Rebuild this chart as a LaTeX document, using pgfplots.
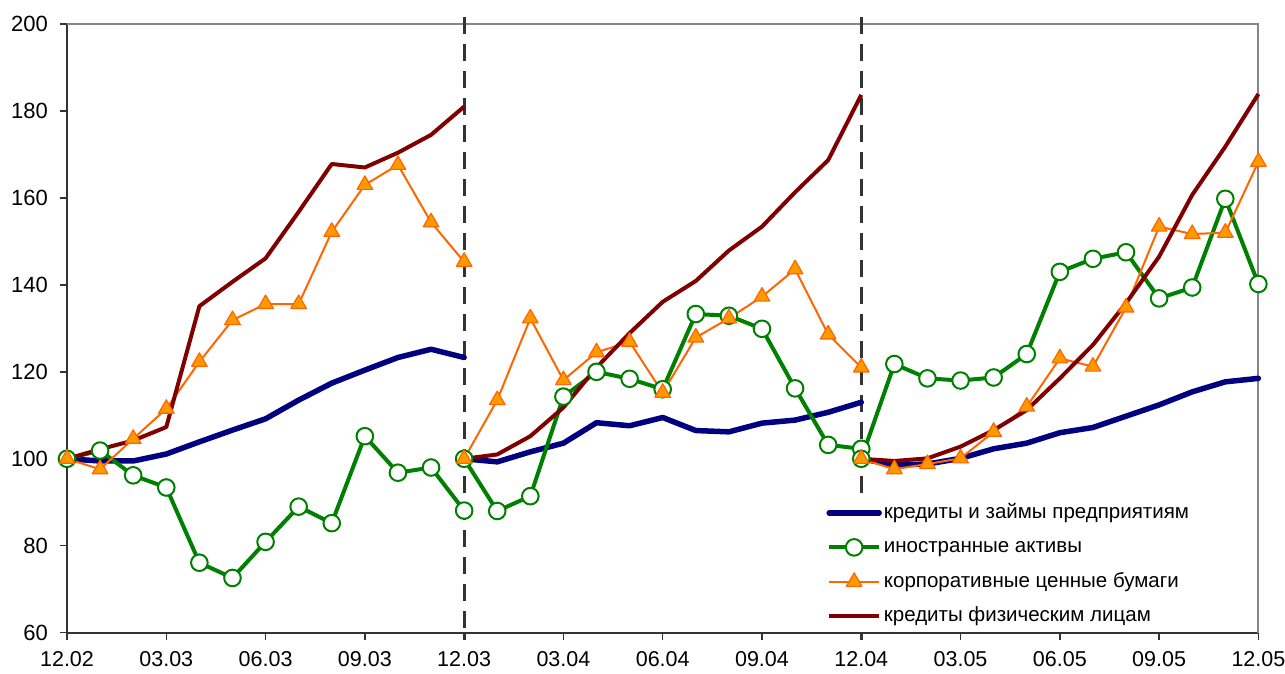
\documentclass[border=0pt]{standalone}
\usepackage{fontspec}
\setmainfont{Liberation Sans}
\usepackage{pgfplots}
\pgfplotsset{compat=1.18}
\definecolor{cblue}{RGB}{0,0,128}
\definecolor{cgreen}{RGB}{0,128,0}
\definecolor{corange}{RGB}{255,102,0}
\definecolor{corfill}{RGB}{255,153,0}
\definecolor{cmaroon}{RGB}{128,0,0}
\definecolor{cdash}{RGB}{51,51,51}
\definecolor{cborder}{RGB}{134,134,134}
\begin{document}
\begin{tikzpicture}
\begin{axis}[
  scale only axis,
  width=1191.4pt, height=608.7pt,
  xmin=0, xmax=36, ymin=60, ymax=200,
  axis lines*=left,
  axis line style={draw=cdash, line width=1.6pt},
  tick align=outside,
  major tick length=7pt,
  tick style={draw=cdash, line width=1.4pt},
  xtick={0,3,...,36},
  xticklabels={12.02,03.03,06.03,09.03,12.03,03.04,06.04,09.04,12.04,03.05,06.05,09.05,12.05},
  ytick={60,80,...,200},
  /pgf/number format/assume math mode=true,
  xticklabel style={font=\fontsize{21.5}{24}\selectfont, inner sep=0pt, anchor=north, yshift=-12pt},
  yticklabel style={font=\fontsize{22}{24}\selectfont, inner sep=0pt, anchor=east, xshift=-12pt},
  unbounded coords=jump,
  clip=false,
  legend style={at={(axis cs:22.85,91.0)}, anchor=north west, draw=none, fill=white,
    inner xsep=3pt, inner ysep=3pt, row sep=11pt,
    font=\fontsize{20.5}{24}\selectfont,
    nodes={text height=15pt, text depth=4.5pt}},
  legend cell align=left,
  legend image code/.code={\draw[mark repeat=2,mark phase=2,#1] plot coordinates {(0pt,0pt) (25pt,0pt) (50pt,0pt)};},
]
\draw[cborder, line width=2pt] (rel axis cs:0,1) -- (rel axis cs:1,1) -- (rel axis cs:1,0);
\addplot[cdash, line width=3pt, dash pattern=on 17pt off 10pt, forget plot] coordinates {(12,201.6) (12,58.3)};
\addplot[cdash, line width=3pt, dash pattern=on 17pt off 10pt, forget plot] coordinates {(24,201.6) (24,91.2)};
\addplot[cdash, line width=3pt, forget plot] coordinates {(24,60.2) (24,58.3)};
\addplot[cdash, line width=3pt, forget plot] coordinates {(12,60.2) (12,58.3)};

\addplot[cblue, line width=5.5pt, line join=round, line cap=round, no marks] coordinates {
(0,100) (1,99.5) (2,99.5) (3,101.1) (4,103.9) (5,106.6) (6,109.2) (7,113.5) (8,117.4) (9,120.4) (10,123.3) (11,125.2) (12,123.3)
(12,nan)
(12,100) (13,99.3) (14,101.6) (15,103.6) (16,108.3) (17,107.6) (18,109.5) (19,106.5) (20,106.2) (21,108.2) (22,108.9) (23,110.7) (24,113.0)
(24,nan)
(24,100) (25,98.6) (26,98.8) (27,100.1) (28,102.3) (29,103.6) (30,106.0) (31,107.2) (32,109.8) (33,112.4) (34,115.4) (35,117.7) (36,118.5)
};
\addlegendentry{кредиты и займы предприятиям}

\addplot[cgreen, line width=4pt, line join=round, mark=*, mark size=8.3pt,
  mark options={fill=white, draw=cgreen, line width=2pt}] coordinates {
(0,100) (1,101.9) (2,96.2) (3,93.4) (4,76.1) (5,72.6) (6,80.9) (7,89.0) (8,85.2) (9,105.2) (10,96.8) (11,98.0) (12,88.1)
(12,nan)
(12,100) (13,88.0) (14,91.4) (15,114.3) (16,120.0) (17,118.4) (18,116.0) (19,133.3) (20,132.9) (21,129.9) (22,116.2) (23,103.2) (24,102.3)
(24,nan)
(24,100) (25,121.8) (26,118.5) (27,118.0) (28,118.7) (29,124.1) (30,143.0) (31,146.0) (32,147.5) (33,136.9) (34,139.4) (35,159.8) (36,140.2)
};
\addlegendentry{иностранные активы}

\addplot[corange, line width=2pt, line join=round, mark=triangle*, mark size=9pt,
  mark options={fill=corfill, draw=corange, line width=1.2pt}] coordinates {
(0,100) (1,97.6) (2,104.6) (3,111.5) (4,122.3) (5,131.9) (6,135.6) (7,135.6) (8,152.2) (9,163.0) (10,167.6) (11,154.4) (12,145.3)
(12,nan)
(12,100) (13,113.5) (14,132.3) (15,118.1) (16,124.5) (17,126.9) (18,115.2) (19,127.9) (20,132.3) (21,137.3) (22,143.6) (23,128.6) (24,121.0)
(24,nan)
(24,100) (25,97.6) (26,98.8) (27,100.1) (28,106.2) (29,112.0) (30,123.1) (31,121.2) (32,134.8) (33,153.4) (34,151.7) (35,152.0) (36,168.3)
};
\addlegendentry{корпоративные ценные бумаги}

\addplot[cmaroon, line width=4pt, line join=round, no marks] coordinates {
(0,100) (1,102.2) (2,104.2) (3,107.3) (4,135.1) (5,140.7) (6,146.1) (7,156.8) (8,167.8) (9,167.0) (10,170.4) (11,174.5) (12,181.0)
(12,nan)
(12,100) (13,101.0) (14,105.2) (15,111.8) (16,121.0) (17,128.9) (18,136.1) (19,140.9) (20,147.9) (21,153.4) (22,161.3) (23,168.7) (24,183.7)
(24,nan)
(24,100) (25,99.5) (26,100.1) (27,102.8) (28,106.6) (29,111.2) (30,118.5) (31,126.2) (32,135.8) (33,146.5) (34,160.7) (35,171.8) (36,183.9)
};
\addlegendentry{кредиты физическим лицам}
\end{axis}
\pgfresetboundingbox
\useasboundingbox ([shift={(-67pt,-40.3pt)}]current axis.south west) rectangle ([shift={(26.6pt,24pt)}]current axis.north east);
\end{tikzpicture}
\end{document}
